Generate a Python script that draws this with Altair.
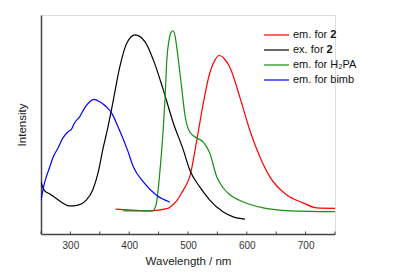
import altair as alt
import pandas as pd

# Series data (wavelength in nm, normalised intensity)
wl_em2 = [377, 435, 466, 472, 481, 489, 497, 503, 515, 526, 537, 546, 553, 562, 571, 588, 605, 622, 639, 668, 696, 719, 750]
in_em2 = [0.114, 0.106, 0.117, 0.128, 0.152, 0.187, 0.224, 0.262, 0.429, 0.598, 0.735, 0.795, 0.815, 0.799, 0.763, 0.626, 0.475, 0.354, 0.262, 0.178, 0.142, 0.119, 0.117]

wl_ex2 = [250, 256, 265, 273, 285, 299, 313, 327, 338, 347, 355, 364, 372, 384, 396, 410, 427, 441, 458, 475, 492, 503, 520, 537, 560, 577, 597]
in_ex2 = [0.236, 0.198, 0.183, 0.168, 0.145, 0.128, 0.132, 0.155, 0.201, 0.279, 0.384, 0.490, 0.597, 0.763, 0.872, 0.909, 0.877, 0.795, 0.658, 0.507, 0.384, 0.292, 0.215, 0.155, 0.100, 0.078, 0.068]

wl_h2pa = [390, 440, 446, 452, 458, 461, 464, 468, 471, 474, 478, 481, 489, 495, 503, 515, 526, 537, 549, 560, 571, 594, 628, 674, 750]
in_h2pa = [0.106, 0.106, 0.137, 0.279, 0.484, 0.621, 0.795, 0.890, 0.920, 0.928, 0.905, 0.850, 0.673, 0.540, 0.466, 0.438, 0.420, 0.370, 0.260, 0.210, 0.180, 0.146, 0.119, 0.106, 0.102]

wl_bimb = [250, 256, 265, 270, 279, 287, 296, 302, 307, 316, 324, 333, 340, 350, 361, 370, 381, 397, 407, 424, 447, 469]
in_bimb = [0.155, 0.233, 0.307, 0.347, 0.393, 0.438, 0.467, 0.479, 0.507, 0.536, 0.575, 0.604, 0.615, 0.604, 0.581, 0.553, 0.490, 0.384, 0.307, 0.238, 0.176, 0.146]

labels = ["em. for 2", "ex. for 2", "em. for H\u2082PA", "em. for bimb"]
legend_main = ["em. for ", "ex. for ", "em. for H\u2082PA", "em. for bimb"]
legend_bold = ["2", "2", "", ""]
colors = ["#ff0000", "#000000", "#119111", "#0000ff"]
x_labels = [300, 400, 500, 600, 700]
x_ticks = [250, 300, 350, 400, 450, 500, 550, 600, 650, 700, 750]

series = [(labels[0], wl_em2, in_em2), (labels[1], wl_ex2, in_ex2),
          (labels[2], wl_h2pa, in_h2pa), (labels[3], wl_bimb, in_bimb)]
rows = []
for name, xs, ys in series:
    for x, y in zip(xs, ys):
        rows.append({"wl": x, "I": y, "series": name})
df = pd.DataFrame(rows)
ticks_df = pd.DataFrame({"wl": x_ticks})

FONT = "Liberation Sans"
W, H = 294, 219

x_axis = alt.Axis(values=x_labels, title="Wavelength / nm", ticks=False, grid=False,
                  domainColor="#444", domainWidth=1.5, labelColor="#333",
                  labelFontSize=10, labelPadding=6, labelFont=FONT, labelOverlap=False,
                  titleFont=FONT, titleFontSize=11.5, titleFontWeight="normal",
                  titleColor="#222", titlePadding=5)
x_scale = alt.Scale(domain=[250, 750], nice=False, zero=False)

lines = alt.Chart(df).mark_line(interpolate="monotone", strokeWidth=1.2, clip=True).encode(
    x=alt.X("wl:Q", scale=x_scale, axis=x_axis),
    y=alt.Y("I:Q", scale=alt.Scale(domain=[0, 1], nice=False),
            axis=alt.Axis(labels=False, ticks=False, grid=False, title="Intensity",
                          domainColor="#444", domainWidth=1.5, titleFont=FONT,
                          titleFontSize=11.5, titleFontWeight="normal", titleColor="#222",
                          titlePadding=14)),
    color=alt.Color("series:N", scale=alt.Scale(domain=labels, range=colors), legend=None),
)

tick_marks = alt.Chart(ticks_df).mark_rule(color="#444", strokeWidth=1).encode(
    x=alt.X("wl:Q", scale=x_scale, axis=x_axis),
    y=alt.value(H - 2.5),
    y2=alt.value(H),
)

# Manual legend (to allow bold "2")
layers = [lines, tick_marks]
LX, LY0, LDY = 223, 20, 15
main_widths = [37.3, 33.6, 0, 0]
for i in range(len(labels)):
    yi = LY0 + LDY * i
    one = pd.DataFrame({"main": [legend_main[i]], "bold": [legend_bold[i]]})
    base = alt.Chart(one)
    layers.append(base.mark_rule(color=colors[i], strokeWidth=1.2).encode(
        x=alt.value(LX), x2=alt.value(LX + 25), y=alt.value(yi)))
    layers.append(base.mark_text(align="left", baseline="middle", font=FONT, fontSize=11,
                                 color="#111").encode(
        text="main:N", x=alt.value(LX + 29), y=alt.value(yi)))
    if legend_bold[i]:
        layers.append(base.mark_text(align="left", baseline="middle", font=FONT, fontSize=11,
                                     fontWeight="bold", color="#111").encode(
            text="bold:N", x=alt.value(LX + 29 + main_widths[i]), y=alt.value(yi)))

chart = alt.layer(*layers).properties(
    width=W, height=H,
    autosize=alt.AutoSizeParams(type="none"),
    padding={"left": 33, "top": 7, "right": 66, "bottom": 37},
).configure_view(stroke=None).configure(background="white")

chart.save("out.html", embed_options={"renderer": "svg", "actions": False})
